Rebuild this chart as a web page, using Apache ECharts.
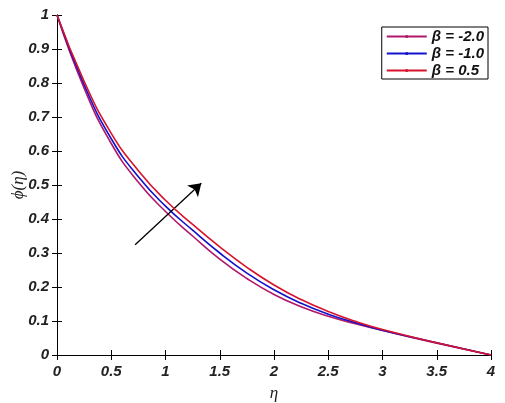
<!DOCTYPE html>
<html>
<head>
<meta charset="utf-8">
<script src="https://cdn.jsdelivr.net/npm/echarts@6/dist/echarts.min.js"></script>
<style>html,body{margin:0;padding:0;background:#fff}#c{width:505px;height:403px}</style>
</head>
<body>
<div id="c"></div>
<script>
const eta = [0, 0.25, 0.5, 0.75, 1, 1.25, 1.5, 1.75, 2, 2.25, 2.5, 2.75, 3, 3.5, 4];
const phiBetaM2 = [1, 0.785, 0.622, 0.508, 0.422, 0.35, 0.282, 0.225, 0.178, 0.142, 0.114, 0.092, 0.072, 0.035, 0];
const phiBetaM1 = [1, 0.795, 0.636, 0.524, 0.438, 0.367, 0.3, 0.241, 0.192, 0.152, 0.12, 0.095, 0.073, 0.036, 0];
const phiBetaP05 = [1, 0.805, 0.652, 0.542, 0.455, 0.384, 0.318, 0.258, 0.206, 0.163, 0.128, 0.099, 0.075, 0.036, 0];
const seriesNames = ['\u03b2 = -2.0', '\u03b2 = -1.0', '\u03b2 = 0.5'];
const arrowStart = [0.72, 0.324];
const arrowEnd = [1.33, 0.505];

const colors = ['#b0186a', '#1212cc', '#d8142c'];
const tickFont = {fontFamily: 'Liberation Sans', fontWeight: 'bold', fontStyle: 'italic', fontSize: 15, color: '#222'};

function pairs(ys) { return eta.map((x, i) => [x, ys[i]]); }
const allY = [phiBetaM2, phiBetaM1, phiBetaP05];

const chart = echarts.init(document.getElementById('c'), null, {renderer: 'canvas'});
const series = allY.map((ys, i) => ({
  name: seriesNames[i],
  type: 'line',
  data: pairs(ys),
  smooth: 0.5,
  showSymbol: false,
  symbol: 'circle',
  symbolSize: 3,
  lineStyle: {color: colors[i], width: 1.6},
  itemStyle: {color: colors[i]},
  z: 3 + i
}));
series[0].markLine = {
  silent: true,
  symbol: ['none', 'arrow'],
  symbolSize: 12,
  label: {show: false},
  lineStyle: {color: '#000', width: 1.3, type: 'solid'},
  emphasis: {disabled: true},
  data: [[{coord: arrowStart}, {coord: arrowEnd}]]
};

chart.setOption({
  animation: false,
  backgroundColor: '#fff',
  grid: {left: 57, right: 14, top: 15, bottom: 48, containLabel: false, outerBoundsMode: 'none'},
  legend: {
    orient: 'vertical',
    right: 17, top: 27,
    itemWidth: 40, itemHeight: 4, itemGap: 2,
    padding: [2, 4, 1, 4],
    borderColor: '#000', borderWidth: 1,
    backgroundColor: '#fff',
    textStyle: {fontFamily: 'Liberation Sans', fontWeight: 'bold', fontStyle: 'italic', fontSize: 15, color: '#111'},
    data: seriesNames
  },
  xAxis: [{
    type: 'value', min: 0, max: 4, interval: 0.5,
    name: '\u03b7', nameLocation: 'middle', nameGap: 30, nameMoveOverlap: false,
    nameTextStyle: {fontFamily: 'Liberation Serif', fontStyle: 'italic', fontSize: 17, color: '#222'},
    axisLine: {lineStyle: {color: '#000', width: 1}},
    axisTick: {inside: true, length: 5, lineStyle: {color: '#000'}},
    axisLabel: Object.assign({margin: 9}, tickFont),
    splitLine: {show: false}
  }, {
    type: 'value', min: 0, max: 4, interval: 0.5, position: 'top',
    axisLine: {lineStyle: {color: '#000', width: 1}},
    axisTick: {inside: true, length: 5, lineStyle: {color: '#000'}},
    axisLabel: {show: false}, splitLine: {show: false}
  }],
  yAxis: [{
    type: 'value', min: 0, max: 1, interval: 0.1,
    name: '\u03d5(\u03b7)', nameLocation: 'middle', nameGap: 30, nameMoveOverlap: false,
    nameTextStyle: {fontFamily: 'Liberation Serif', fontStyle: 'italic', fontSize: 17, color: '#222'},
    axisLine: {show: true, lineStyle: {color: '#000', width: 1}},
    axisTick: {show: true, inside: true, length: 5, lineStyle: {color: '#000'}},
    axisLabel: Object.assign({margin: 8}, tickFont),
    splitLine: {show: false}
  }, {
    type: 'value', min: 0, max: 1, interval: 0.1, position: 'right',
    axisLine: {show: true, lineStyle: {color: '#000', width: 1}},
    axisTick: {show: true, inside: true, length: 5, lineStyle: {color: '#000'}},
    axisLabel: {show: false}, splitLine: {show: false}
  }],
  series: series
});
</script>
</body>
</html>
